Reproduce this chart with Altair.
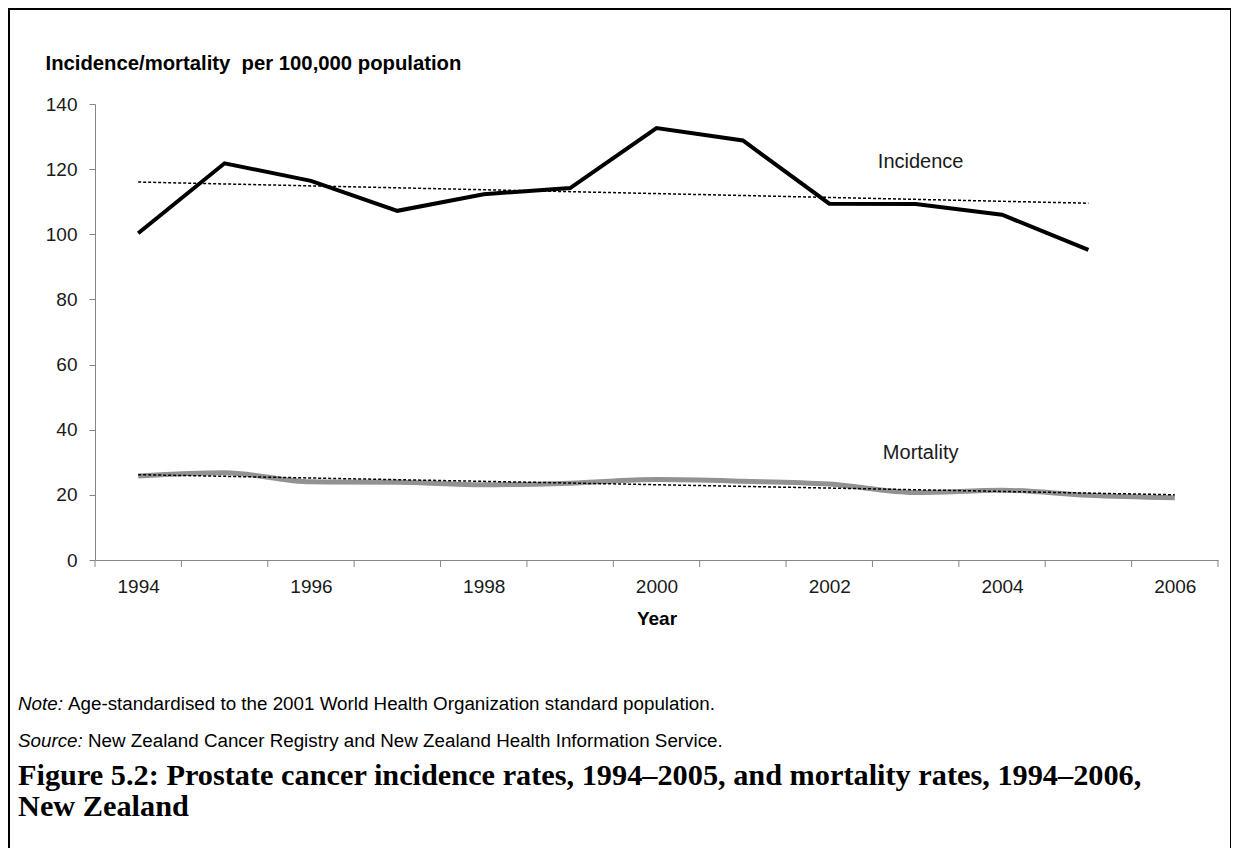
import altair as alt
import pandas as pd

# ---- data ----
years_incidence = [1994, 1995, 1996, 1997, 1998, 1999, 2000, 2001, 2002, 2003, 2004, 2005]
incidence = [100.3, 121.8, 116.4, 107.2, 112.3, 114.2, 132.6, 128.8, 109.4, 109.3, 106.0, 95.2]

years_mortality = [1994, 1995, 1996, 1997, 1998, 1999, 2000, 2001, 2002, 2003, 2004, 2005, 2006]
mortality = [25.8, 26.8, 24.0, 23.9, 23.1, 23.6, 24.7, 24.2, 23.3, 20.7, 21.4, 19.9, 19.1]

series_names = ["Incidence", "Mortality"]
label_years = [2003, 2003]
label_values = [122.2, 33.0]

x_category_edges = [1993.5, 1994.5, 1995.5, 1996.5, 1997.5, 1998.5, 1999.5,
                    2000.5, 2001.5, 2002.5, 2003.5, 2004.5, 2005.5, 2006.5]
x_label_years = [1994, 1996, 1998, 2000, 2002, 2004, 2006]
y_ticks = [0, 20, 40, 60, 80, 100, 120, 140]

y_title = "Incidence/mortality\u00a0 per 100,000 population"
x_title = "Year"
note_lead = "Note:"
note_text = "Age-standardised to the 2001 World Health Organization standard population."
source_lead = "Source:"
source_text = "New Zealand Cancer Registry and New Zealand Health Information Service."
caption_lines = ["Figure 5.2: Prostate cancer incidence rates, 1994\u20132005, and mortality rates, 1994\u20132006,",
                 "New Zealand"]

# ---- tables ----
df = pd.concat([
    pd.DataFrame({"year": years_incidence, "value": incidence, "series": "Incidence"}),
    pd.DataFrame({"year": years_mortality, "value": mortality, "series": "Mortality"}),
], ignore_index=True)
labels_df = pd.DataFrame({"year": label_years, "value": label_values, "name": series_names})
edges_df = pd.DataFrame({"edge": x_category_edges})

SANS = "Liberation Sans, Arial, sans-serif"
SERIF = "Liberation Serif, Times New Roman, serif"
GREY = "#868686"

W, H = 1123, 456

x_scale = alt.Scale(domain=[1993.5, 2006.5], nice=False, zero=False)

x_enc = alt.X(
    "year:Q",
    scale=x_scale,
    axis=alt.Axis(
        values=x_label_years,
        format="d",
        grid=False,
        domainColor=GREY,
        ticks=False,
        labelPadding=17,
        labelOverlap=False,
        labelFlush=False,
        labelFont=SANS,
        labelFontSize=19,
        labelColor="#1a1a1a",
        title=x_title,
        titleFont=SANS,
        titleFontSize=19,
        titleFontWeight="bold",
        titleColor="#000000",
        titleY=58,
        titleBaseline="middle",
    ),
)
y_enc = alt.Y(
    "value:Q",
    scale=alt.Scale(domain=[0, 140], nice=False),
    axis=alt.Axis(
        values=y_ticks,
        grid=False,
        domainColor=GREY,
        tickColor=GREY,
        tickSize=6,
        labelPadding=12,
        labelFont=SANS,
        labelFontSize=19,
        labelColor="#1a1a1a",
        title=y_title,
        titleFont=SANS,
        titleFontSize=20.3,
        titleFontWeight="bold",
        titleColor="#000000",
        titleAngle=0,
        titleAlign="left",
        titleBaseline="middle",
        titleX=-50,
        titleY=-41,
    ),
)

frame = alt.Chart(pd.DataFrame({"k": [0]})).mark_rect(
    filled=False, stroke="#000000", strokeWidth=2
).encode(x=alt.value(-86), x2=alt.value(1136), y=alt.value(-95), y2=alt.value(900))

edge_ticks = alt.Chart(edges_df).mark_rule(color=GREY, strokeWidth=1).encode(
    x=alt.X("edge:Q", scale=x_scale), y=alt.value(H), y2=alt.value(H + 7)
)

mort_line = alt.Chart(df).transform_filter("datum.series === 'Mortality'").mark_line(
    color="#929292", strokeWidth=5, interpolate="monotone"
).encode(x=x_enc, y=y_enc)

inc_line = alt.Chart(df).transform_filter("datum.series === 'Incidence'").mark_line(
    color="#000000", strokeWidth=4
).encode(x=x_enc, y=y_enc)

trend = alt.Chart(df).transform_regression(
    "year", "value", groupby=["series"]
).mark_line(color="#000000", strokeWidth=1.5, strokeDash=[3, 2]).encode(
    x="year:Q", y="value:Q", detail="series:N"
)

series_text = alt.Chart(labels_df).mark_text(
    font=SANS, fontSize=20, color="#1a1a1a", align="center", baseline="middle", dx=5
).encode(x="year:Q", y="value:Q", text="name:N")


def text_layer(txt, x, y, **kw):
    return alt.Chart(pd.DataFrame({"t": [txt]})).mark_text(
        align="left", baseline="middle", **kw
    ).encode(x=alt.value(x), y=alt.value(y), text="t:N")


NOTE_FS = 18.8
notes = [
    text_layer(note_lead, -77, 600, font=SANS, fontSize=NOTE_FS, fontStyle="italic", color="#000"),
    text_layer(note_text, -77 + 50, 600, font=SANS, fontSize=NOTE_FS, color="#000"),
    text_layer(source_lead, -77, 637, font=SANS, fontSize=NOTE_FS, fontStyle="italic", color="#000"),
    text_layer(source_text, -77 + 70, 637, font=SANS, fontSize=NOTE_FS, color="#000"),
    text_layer(caption_lines[0], -77, 672, font=SERIF, fontSize=30.3, fontWeight="bold", color="#000"),
    text_layer(caption_lines[1], -77, 703, font=SERIF, fontSize=30.3, fontWeight="bold", color="#000"),
]

chart = alt.layer(frame, edge_ticks, mort_line, inc_line, trend, series_text, *notes).properties(
    width=W,
    height=H,
    autosize=alt.AutoSizeParams(type="none"),
    padding={"left": 87, "top": 96, "right": 13, "bottom": 288},
    background="#ffffff",
).configure_view(strokeWidth=0)

chart.save("out.html", embed_options={"renderer": "svg", "actions": False})
